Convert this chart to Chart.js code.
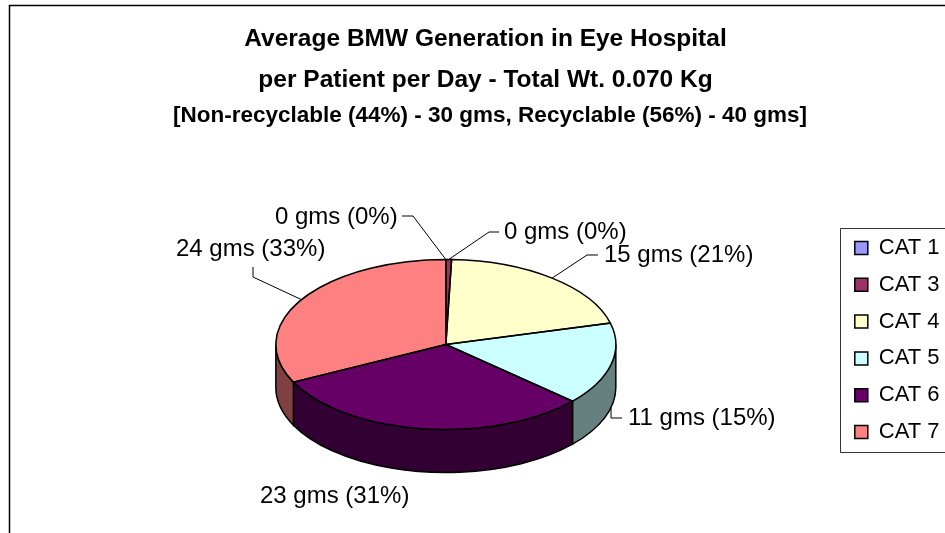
<!DOCTYPE html>
<html>
<head>
<meta charset="utf-8">
<style>
  html, body { margin: 0; padding: 0; background: #fff; overflow: hidden; }
  #wrap { position: relative; width: 945px; height: 533px; }
</style>
</head>
<body>
<div id="wrap"><canvas id="chart"></canvas></div>
<script src="https://cdn.jsdelivr.net/npm/chart.js@4/dist/chart.umd.min.js"></script>
<script>
// DATA
const categories = ["CAT 1", "CAT 3", "CAT 4", "CAT 5", "CAT 6", "CAT 7"];
const grams = [0, 0.4, 15.1, 11.6, 23, 23.9];
const sliceLabels = ["0 gms (0%)", "0 gms (0%)", "15 gms (21%)", "11 gms (15%)", "23 gms (31%)", "24 gms (33%)"];
const titleLines = ["Average BMW Generation in Eye Hospital", "per Patient per Day - Total Wt. 0.070 Kg"];
const subtitleLine = "[Non-recyclable (44%) - 30 gms, Recyclable (56%) - 40 gms]";

// STYLE
const colors = ["#9999ff", "#993366", "#ffffcc", "#ccffff", "#660066", "#ff8080"];
const FONT = '"Liberation Sans", Arial, sans-serif';
const SQUASH = 0.5;
const DEPTH = 43;
const LEGEND_FRAME = { left: 840, top: 228, bottom: 452 };

// label text position + leader elbow, one per slice
const labelLayout = [
  { x: 275, y: 217, elbow: [[413, 216], [402, 216]] },
  { x: 504, y: 232, elbow: [[489, 232], [499, 232]] },
  { x: 604, y: 255, elbow: [[587, 255], [598, 255]] },
  { x: 628, y: 418, elbow: [[611, 418], [622, 418]] },
  { x: 260, y: 496, elbow: null },
  { x: 176, y: 249, elbow: [[253, 277], [253, 267]] },
];

function darker(hex) {
  const n = parseInt(hex.slice(1), 16);
  const half = v => Math.round(v / 2);
  return `rgb(${half(n >> 16)},${half((n >> 8) & 255)},${half(n & 255)})`;
}

// squashed pie with a side wall, outlines, labels and frames
const pie3d = {
  id: "pie3d",
  afterLayout(chart) {
    // title blocks are centred on the plot, not on the cropped page
    chart.boxes.forEach(box => {
      if (box.options && box.options.text !== undefined) {
        const centre = Array.isArray(box.options.text) ? 485.5 : 490;
        box.left = centre - 472.5;
        box.right = centre + 472.5;
      }
    });
    // keep the legend box tall so it stays one column, centred on the frame
    const lg = chart.legend;
    lg.left = LEGEND_FRAME.left;
    lg.top = LEGEND_FRAME.top - 100;
    lg.bottom = LEGEND_FRAME.bottom + 100;
  },
  beforeDraw(chart) {
    const { ctx, width, height } = chart;
    ctx.save();
    ctx.fillStyle = "#fff";
    ctx.fillRect(0, 0, width, height);
    ctx.strokeStyle = "#000";
    ctx.lineWidth = 1.5;
    ctx.beginPath();
    ctx.moveTo(width, 5.5);
    ctx.lineTo(9.5, 5.5);
    ctx.lineTo(9.5, height);
    ctx.stroke();
    ctx.lineWidth = 1;
    ctx.strokeStyle = "#333";
    ctx.beginPath();
    ctx.moveTo(width, LEGEND_FRAME.top + 0.5);
    ctx.lineTo(LEGEND_FRAME.left + 0.5, LEGEND_FRAME.top + 0.5);
    ctx.lineTo(LEGEND_FRAME.left + 0.5, LEGEND_FRAME.bottom + 0.5);
    ctx.lineTo(width, LEGEND_FRAME.bottom + 0.5);
    ctx.stroke();
    ctx.restore();
  },
  beforeDatasetDraw(chart) {
    const { ctx } = chart;
    const arcs = chart.getDatasetMeta(0).data;
    ctx.save();
    ctx.strokeStyle = "#000";
    ctx.lineWidth = 1.5;
    arcs.forEach((arc, i) => {
      const a0 = Math.max(arc.startAngle, 0);
      const a1 = Math.min(arc.endAngle, Math.PI);
      if (a1 <= a0) return;
      const r = arc.outerRadius, ry = r * SQUASH, yc = arc.y;
      ctx.beginPath();
      ctx.ellipse(arc.x, yc, r, ry, 0, a0, a1);
      ctx.lineTo(arc.x + r * Math.cos(a1), yc + ry * Math.sin(a1) + DEPTH);
      ctx.ellipse(arc.x, yc + DEPTH, r, ry, 0, a1, a0, true);
      ctx.closePath();
      ctx.fillStyle = darker(colors[i]);
      ctx.fill();
      ctx.stroke();
    });
    ctx.restore();
    ctx.save();
    const yc = arcs[0].y;
    ctx.translate(0, yc);
    ctx.scale(1, SQUASH);
    ctx.translate(0, -yc);
  },
  afterDatasetDraw(chart) {
    const { ctx } = chart;
    ctx.restore();
    const arcs = chart.getDatasetMeta(0).data;
    ctx.save();
    ctx.strokeStyle = "#000";
    ctx.lineWidth = 1.5;
    arcs.forEach(arc => {
      const r = arc.outerRadius, ry = r * SQUASH;
      ctx.beginPath();
      ctx.moveTo(arc.x, arc.y);
      ctx.lineTo(arc.x + r * Math.cos(arc.startAngle), arc.y + ry * Math.sin(arc.startAngle));
      ctx.ellipse(arc.x, arc.y, r, ry, 0, arc.startAngle, arc.endAngle);
      ctx.closePath();
      ctx.stroke();
    });
    // labels and leader lines
    ctx.lineWidth = 1;
    ctx.fillStyle = "#000";
    ctx.font = `24px ${FONT}`;
    ctx.textAlign = "left";
    ctx.textBaseline = "middle";
    arcs.forEach((arc, i) => {
      const l = labelLayout[i];
      if (l.elbow) {
        const mid = (arc.startAngle + arc.endAngle) / 2;
        const r = arc.outerRadius;
        const ax = arc.x + r * Math.cos(mid);
        let ay = arc.y + r * SQUASH * Math.sin(mid);
        if (Math.sin(mid) > 0) ay += DEPTH;
        ctx.beginPath();
        ctx.moveTo(ax, ay);
        l.elbow.forEach(p => ctx.lineTo(p[0], p[1]));
        ctx.stroke();
      }
      ctx.fillText(sliceLabels[i], l.x, l.y);
    });
    ctx.restore();
  },
};

new Chart(document.querySelector("#chart"), {
  type: "pie",
  data: {
    labels: categories,
    datasets: [{ data: grams, backgroundColor: colors, borderWidth: 0 }],
  },
  plugins: [pie3d],
  options: {
    responsive: true,
    maintainAspectRatio: false,
    animation: false,
    layout: { padding: { left: 43.2, right: -13, top: 0, bottom: 18.5 } },
    plugins: {
      tooltip: { enabled: false },
      title: {
        display: true,
        text: titleLines,
        color: "#000",
        font: { family: FONT, size: 24.5, weight: "bold", lineHeight: 41 / 24.5 },
        padding: { top: 18.5, bottom: 0 },
      },
      subtitle: {
        display: true,
        text: subtitleLine,
        color: "#000",
        font: { family: FONT, size: 22.5, weight: "bold", lineHeight: 24 / 22.5 },
        padding: { top: 3.5, bottom: 46.5 },
      },
      legend: {
        position: "right",
        labels: {
          color: "#000",
          font: { family: FONT, size: 22 },
          boxWidth: 13,
          boxHeight: 13,
          padding: 14.8,
          generateLabels(chart) {
            return Chart.overrides.pie.plugins.legend.labels.generateLabels(chart).map(item => ({
              ...item,
              strokeStyle: "#000",
              lineWidth: 1.5,
            }));
          },
        },
      },
    },
  },
});
</script>
</body>
</html>
